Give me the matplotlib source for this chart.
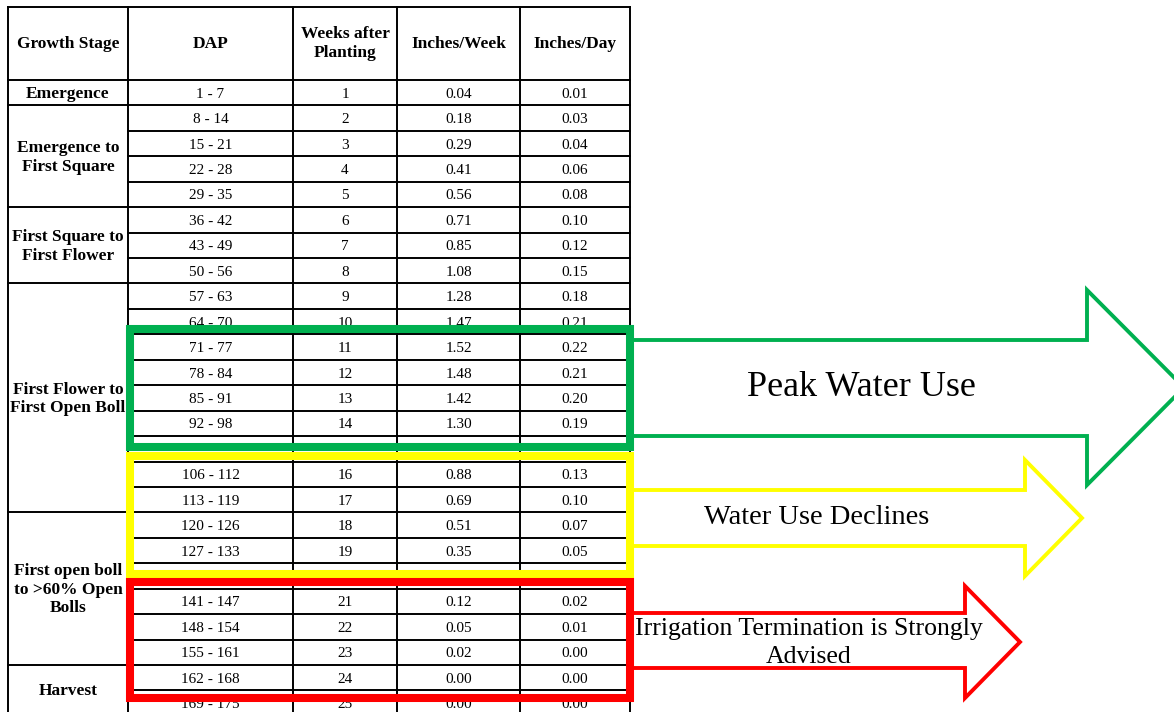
import matplotlib
matplotlib.use("Agg")
import matplotlib.pyplot as plt
from matplotlib.patches import Polygon, Rectangle

plt.rcParams['font.family'] = 'Liberation Serif'

# table content
headers = ["Growth Stage", "DAP", "Weeks after\nPlanting", "Inches/Week", "Inches/Day"]
stages = ["Emergence", "Emergence to\nFirst Square", "First Square to\nFirst Flower",
          "First Flower to\nFirst Open Boll", "First open boll\nto >60% Open\nBolls", "Harvest"]
stage_rows = [1, 4, 3, 9, 6, 2]
dap = ["1 - 7", "8 - 14", "15 - 21", "22 - 28", "29 - 35", "36 - 42", "43 - 49", "50 - 56",
       "57 - 63", "64 - 70", "71 - 77", "78 - 84", "85 - 91", "92 - 98", "99 - 105",
       "106 - 112", "113 - 119", "120 - 126", "127 - 133", "134 - 140", "141 - 147",
       "148 - 154", "155 - 161", "162 - 168", "169 - 175"]
weeks = list(range(1, 26))
in_week = [0.04, 0.18, 0.29, 0.41, 0.56, 0.71, 0.85, 1.08, 1.28, 1.47, 1.52, 1.48, 1.42,
           1.30, 1.10, 0.88, 0.69, 0.51, 0.35, 0.21, 0.12, 0.05, 0.02, 0.00, 0.00]
in_day = [0.01, 0.03, 0.04, 0.06, 0.08, 0.10, 0.12, 0.15, 0.18, 0.21, 0.22, 0.21, 0.20,
          0.19, 0.16, 0.13, 0.10, 0.07, 0.05, 0.03, 0.02, 0.01, 0.00, 0.00, 0.00]
# weeks that are covered up between the coloured boxes
hidden_weeks = [15, 20]

# highlighted messages
messages = ["Peak Water Use", "Water Use Declines",
            "Irrigation Termination is Strongly\nAdvised"]
colors = ["#00B050", "#FFFF00", "#FF0000"]

fig = plt.figure(figsize=(11.74, 7.12), dpi=100)
ax = fig.add_axes([0, 0, 1, 1])
ax.set_xlim(0, 1174)
ax.set_ylim(712, 0)
ax.axis('off')

col_x = [8, 128, 293, 397, 520, 630]
top = 7
head_bot = 80
row_h = (665 - head_bot) / 23
bottom = 720
lw = 1.4

def ry(i):
    return head_bot + i * row_h

# grid lines
for x in col_x:
    ax.plot([x, x], [top, bottom], color='black', lw=lw, zorder=2)
ax.plot([col_x[0], col_x[-1]], [top, top], color='black', lw=lw, zorder=2)
ax.plot([col_x[0], col_x[-1]], [head_bot, head_bot], color='black', lw=lw, zorder=2)
for i in range(1, len(dap)):
    ax.plot([col_x[1], col_x[-1]], [ry(i), ry(i)], color='black', lw=lw, zorder=2)
start = 0
for n in stage_rows[:-1]:
    start += n
    ax.plot([col_x[0], col_x[1]], [ry(start), ry(start)], color='black', lw=lw, zorder=2)

# header
for j, h in enumerate(headers):
    cx = (col_x[j] + col_x[j + 1]) / 2
    ax.text(cx, (top + head_bot) / 2, h, ha='center', va='center', fontsize=12.5,
            fontweight='bold', linespacing=1.2, zorder=3)

# growth stage cells
start = 0
for s, n in zip(stages, stage_rows):
    y0 = ry(start)
    y1 = min(ry(start + n), 716)
    ax.text((col_x[0] + col_x[1]) / 2, (y0 + y1) / 2 + 1, s, ha='center', va='center',
            fontsize=12.5, fontweight='bold', linespacing=1.2, zorder=3)
    start += n

# data cells
for i in range(len(dap)):
    cy = ry(i) + row_h / 2 + 1.5
    vals = [dap[i], str(weeks[i]), f"{in_week[i]:.2f}", f"{in_day[i]:.2f}"]
    for j, v in enumerate(vals):
        cx = (col_x[j + 1] + col_x[j + 2]) / 2
        ax.text(cx, cy, v, ha='center', va='center', fontsize=11, zorder=3)

# white patches over the rows that are hidden in the original
for w in hidden_weeks:
    cy = ry(w - 1) + row_h / 2
    for j in range(1, 5):
        ax.add_patch(Rectangle((col_x[j] + 1.2, cy - 7), col_x[j + 1] - col_x[j] - 2.4, 17,
                               facecolor='white', edgecolor='none', zorder=3.5))

# arrows: (shaft top, shaft bottom, head x, head top, head bottom, tip x)
arrows = [(340, 436, 1087, 290, 485, 1184),
          (490, 546, 1025, 460, 576, 1082),
          (613, 668, 965, 586, 698, 1020)]
text_x = [861, 817, 809]
text_y = [388, 518, 643]
text_size = [26, 20.5, 18.5]
for (st, sb, hx, ht, hb, tx), c, msg, lx, ly, fs in zip(arrows, colors, messages,
                                                       text_x, text_y, text_size):
    cy = (ht + hb) / 2
    pts = [(628, st), (hx, st), (hx, ht), (tx, cy), (hx, hb), (hx, sb), (628, sb)]
    ax.add_patch(Polygon(pts, closed=True, facecolor='white', edgecolor=c, lw=2.8,
                         zorder=4))
    ax.text(lx, ly, msg, ha='center', va='center', fontsize=fs, linespacing=1.3,
            zorder=5)

# coloured boxes around the highlighted rows
box_y = [(329, 447), (456, 574), (582, 698)]
for (y0, y1), c in zip(box_y, colors):
    ax.add_patch(Rectangle((129.5, y0), 630 - 129.5, y1 - y0, facecolor='none',
                           edgecolor=c, lw=5.8, zorder=6))

fig.savefig("out.png", dpi=100)
